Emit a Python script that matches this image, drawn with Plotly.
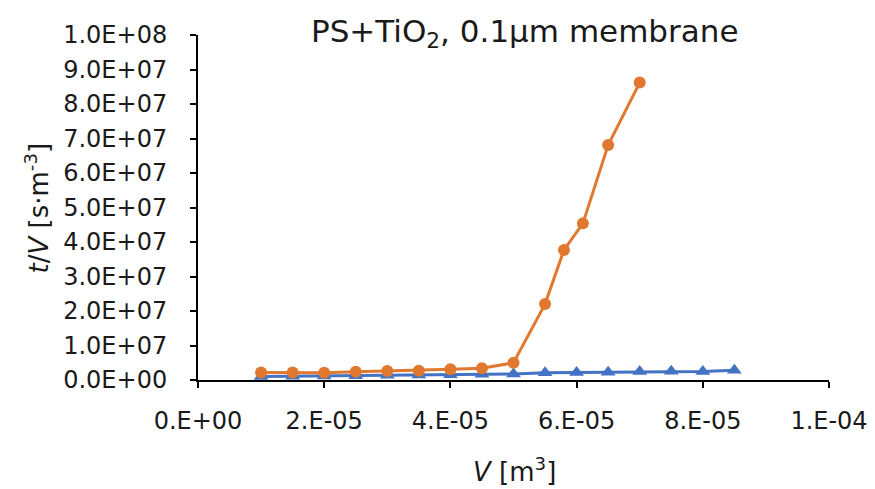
import plotly.graph_objects as go

# Orange series (circles)
v_orange = [1.0e-5, 1.5e-5, 2.0e-5, 2.5e-5, 3.0e-5, 3.5e-5, 4.0e-5, 4.5e-5, 5.0e-5,
            5.5e-5, 5.8e-5, 6.1e-5, 6.5e-5, 7.0e-5]
tv_orange = [2.2e6, 2.2e6, 2.1e6, 2.4e6, 2.6e6, 2.7e6, 3.1e6, 3.4e6, 5.0e6,
             22.0e6, 37.7e6, 45.4e6, 68.1e6, 86.2e6]

# Blue series (triangles)
v_blue = [1.0e-5, 1.5e-5, 2.0e-5, 2.5e-5, 3.0e-5, 3.5e-5, 4.0e-5, 4.5e-5, 5.0e-5,
          5.5e-5, 6.0e-5, 6.5e-5, 7.0e-5, 7.5e-5, 8.0e-5, 8.5e-5]
tv_blue = [1.0e6, 1.1e6, 1.15e6, 1.25e6, 1.35e6, 1.45e6, 1.55e6, 1.65e6, 1.75e6,
           2.1e6, 2.2e6, 2.25e6, 2.5e6, 2.55e6, 2.5e6, 2.85e6]

# Tick labels
x_tickvals = [0, 2e-5, 4e-5, 6e-5, 8e-5, 1e-4]
x_ticktext = ["0.E+00", "2.E-05", "4.E-05", "6.E-05", "8.E-05", "1.E-04"]
y_tickvals = [i * 1e7 for i in range(11)]
y_ticktext = ["0.0E+00", "1.0E+07", "2.0E+07", "3.0E+07", "4.0E+07", "5.0E+07",
              "6.0E+07", "7.0E+07", "8.0E+07", "9.0E+07", "1.0E+08"]

title_text = "PS+TiO<sub>2</sub>, 0.1µm membrane"
x_title = "<i>V</i> [m<sup>3</sup>]"
y_title = "<i>t</i>/<i>V</i> [s·m<sup>-3</sup>]"

orange = "#E0782F"
blue = "#4472C4"
text_color = "#1a1a1a"
font_family = "DejaVu Sans, sans-serif"

fig = go.Figure()
fig.add_trace(go.Scatter(
    x=v_blue, y=tv_blue, mode="lines+markers",
    line=dict(color=blue, width=3),
    marker=dict(symbol="triangle-up", size=13, color=blue),
    showlegend=False, cliponaxis=False,
))
fig.add_trace(go.Scatter(
    x=v_orange, y=tv_orange, mode="lines+markers",
    line=dict(color=orange, width=3),
    marker=dict(symbol="circle", size=12, color=orange),
    showlegend=False, cliponaxis=False,
))

# The page body has an 8px margin, so the figure is 8px smaller than the window.
fig.update_layout(
    width=867, height=481,
    margin=dict(l=190, r=46, t=27, b=109, autoexpand=False),
    paper_bgcolor="white", plot_bgcolor="white",
    font=dict(family=font_family, size=24, color=text_color),
    title=dict(text=title_text, x=0.596, xanchor="center", y=0.952, yanchor="middle",
               font=dict(size=31, family=font_family, color=text_color)),
    xaxis=dict(
        range=[0, 1e-4], tickvals=x_tickvals, ticktext=x_ticktext,
        showgrid=False, zeroline=False, showline=True, linecolor="black", linewidth=2,
        ticks="outside", ticklen=6, tickwidth=2, tickcolor="black",
        tickfont=dict(size=24), ticklabelstandoff=12, automargin=False,
    ),
    yaxis=dict(
        range=[0, 1e8], tickvals=y_tickvals, ticktext=y_ticktext,
        showgrid=False, zeroline=False, showline=True, linecolor="black", linewidth=2,
        ticks="outside", ticklen=6, tickwidth=2, tickcolor="black",
        tickfont=dict(size=24), ticklabelstandoff=18, automargin=False,
    ),
    annotations=[
        dict(text=x_title, xref="paper", yref="paper", x=0.502, y=-0.261,
             xanchor="center", yanchor="middle", showarrow=False,
             font=dict(size=26, family=font_family, color=text_color)),
        dict(text=y_title, xref="paper", yref="paper", x=-0.2552, y=0.5,
             xanchor="center", yanchor="middle", showarrow=False, textangle=-90,
             font=dict(size=26, family=font_family, color=text_color)),
    ],
)

fig.write_html("out.html")
